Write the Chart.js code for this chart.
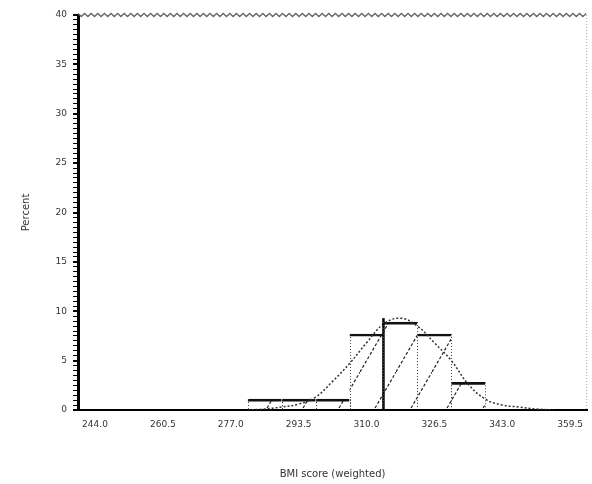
<!DOCTYPE html>
<html>
<head>
<meta charset="utf-8">
<script src="https://cdn.jsdelivr.net/npm/chart.js@4"></script>
<style>
  html, body { margin: 0; padding: 0; background: #fff; }
  #wrap { width: 592px; height: 484px; }
</style>
</head>
<body>
<div id="wrap"><canvas id="histChart" width="592" height="484"></canvas></div>
<script>
// Histogram bins (bin index 0..14) and percent per bin
const bins = [0, 1, 2, 3, 4, 5, 6, 7, 8, 9, 10, 11, 12, 13, 14];
const percents = [0, 0, 0, 0, 0, 1.1, 1.1, 1.1, 7.7, 8.9, 7.7, 2.8, 0, 0, 0];

// Fitted curve at half-bin steps
const curveX = [4.5, 5, 5.5, 6, 6.5, 7, 7.5, 8, 8.5, 9, 9.5, 10, 10.5, 11, 11.5, 12, 12.5, 13, 13.5];
const curveY = [0, 0.1, 0.3, 0.6, 1.3, 2.9, 4.7, 6.8, 8.7, 9.3, 8.5, 6.8, 5.0, 2.6, 1.1, 0.5, 0.3, 0.1, 0];

// Reference (mean) line
const meanX = 8.5;
const meanTop = 9.3;

// Tick labels on every other bin
const xTickPos = [0, 2, 4, 6, 8, 10, 12, 14];
const xTickLabels = ['244.0', '260.5', '277.0', '293.5', '310.0', '326.5', '343.0', '359.5'];
const yTicks = [0, 5, 10, 15, 20, 25, 30, 35, 40];

const xTitle = 'BMI score (weighted)';
const yTitle = 'Percent';

// hatch pattern for the bars
function makeHatch() {
    const c = document.createElement('canvas');
    c.width = 36;
    c.height = 62;
    const g = c.getContext('2d');
    g.strokeStyle = '#222';
    g.lineWidth = 1.2;
    g.setLineDash([3, 2]);
    g.beginPath();
    g.moveTo(0, 62);
    g.lineTo(36, 0);
    g.stroke();
    return g.createPattern(c, 'repeat');
}

// dotted sides on each bar + frame bits
const framePlugin = {
    id: 'frame',
    afterDatasetsDraw(chart) {
        const ctx = chart.ctx;
        const meta = chart.getDatasetMeta(0);
        ctx.save();
        ctx.strokeStyle = '#444';
        ctx.lineWidth = 1;
        ctx.setLineDash([1, 2]);
        meta.data.forEach((bar, i) => {
            if (!percents[i]) return;
            const p = bar.getProps(['x', 'y', 'base', 'width'], true);
            [p.x - p.width / 2, p.x + p.width / 2].forEach(px => {
                ctx.beginPath();
                ctx.moveTo(Math.round(px) + 0.5, p.y);
                ctx.lineTo(Math.round(px) + 0.5, p.base);
                ctx.stroke();
            });
        });
        ctx.restore();
    },
    afterDraw(chart) {
        const ctx = chart.ctx;
        const a = chart.chartArea;
        ctx.save();
        // wavy top edge
        ctx.strokeStyle = '#666';
        ctx.lineWidth = 1.3;
        ctx.beginPath();
        let up = true;
        for (let x = a.left; x <= a.right; x += 3.3) {
            const y = a.top + (up ? -1.5 : 1.5);
            if (x === a.left) ctx.moveTo(x, y); else ctx.lineTo(x, y);
            up = !up;
        }
        ctx.stroke();
        // dotted right edge
        ctx.strokeStyle = '#aaa';
        ctx.lineWidth = 1;
        ctx.setLineDash([1, 2]);
        ctx.beginPath();
        ctx.moveTo(a.right - 0.5, a.top);
        ctx.lineTo(a.right - 0.5, a.bottom);
        ctx.stroke();
        ctx.restore();
    }
};

const ctx = document.getElementById('histChart').getContext('2d');

new Chart(ctx, {
    type: 'bar',
    data: {
        datasets: [
            {
                type: 'bar',
                data: bins.map((b, i) => ({ x: b, y: percents[i] })),
                backgroundColor: makeHatch(),
                borderColor: '#111',
                borderWidth: { top: 2, left: 0, right: 0, bottom: 0 },
                borderSkipped: false,
                barPercentage: 1,
                categoryPercentage: 1,
                order: 2
            },
            {
                type: 'line',
                data: curveX.map((x, i) => ({ x: x, y: curveY[i] })),
                borderColor: '#333',
                borderWidth: 1.5,
                borderDash: [2, 2],
                pointRadius: 0,
                tension: 0.4,
                fill: false,
                order: 1
            },
            {
                type: 'line',
                data: [{ x: meanX, y: 0 }, { x: meanX, y: meanTop }],
                borderColor: '#000',
                borderWidth: 2.5,
                pointRadius: 0,
                fill: false,
                order: 0
            }
        ]
    },
    options: {
        responsive: false,
        animation: false,
        layout: { padding: { top: 15, right: 0, left: 0, bottom: 0 } },
        plugins: {
            legend: { display: false },
            tooltip: { enabled: false }
        },
        scales: {
            x: {
                type: 'linear',
                min: -0.5,
                max: 14.5,
                offset: false,
                afterFit: s => { s.height = 74; },
                afterBuildTicks: s => { s.ticks = xTickPos.map(v => ({ value: v })); },
                grid: { display: true, drawOnChartArea: false, drawTicks: false, offset: false },
                border: { display: true, color: '#000', width: 2 },
                ticks: {
                    padding: 9,
                    color: '#333',
                    font: { family: 'DejaVu Sans', size: 9 },
                    maxRotation: 0,
                    autoSkip: false,
                    callback: v => xTickLabels[xTickPos.indexOf(v)]
                },
                title: {
                    display: true,
                    text: xTitle,
                    color: '#333',
                    font: { family: 'DejaVu Sans', size: 10 },
                    padding: { top: 0, bottom: 4 }
                }
            },
            y: {
                min: 0,
                max: 40,
                afterFit: s => { s.width = 78; },
                afterBuildTicks: s => {
                    const t = [];
                    for (let v = 0; v <= 40; v += 0.5) t.push({ value: v });
                    s.ticks = t;
                },
                grid: {
                    drawOnChartArea: false,
                    tickLength: 5,
                    color: '#000',
                    lineWidth: c => (c.tick && yTicks.includes(c.tick.value) ? 2 : 1)
                },
                border: { display: true, color: '#000', width: 3 },
                ticks: {
                    autoSkip: false,
                    padding: 6,
                    color: '#333',
                    font: { family: 'DejaVu Sans', size: 9 },
                    callback: v => (yTicks.includes(v) ? v : '')
                },
                title: {
                    display: true,
                    text: yTitle,
                    color: '#333',
                    font: { family: 'DejaVu Sans', size: 10 },
                    padding: { top: 20, bottom: 0 }
                }
            }
        }
    },
    plugins: [framePlugin]
});
</script>
</body>
</html>
